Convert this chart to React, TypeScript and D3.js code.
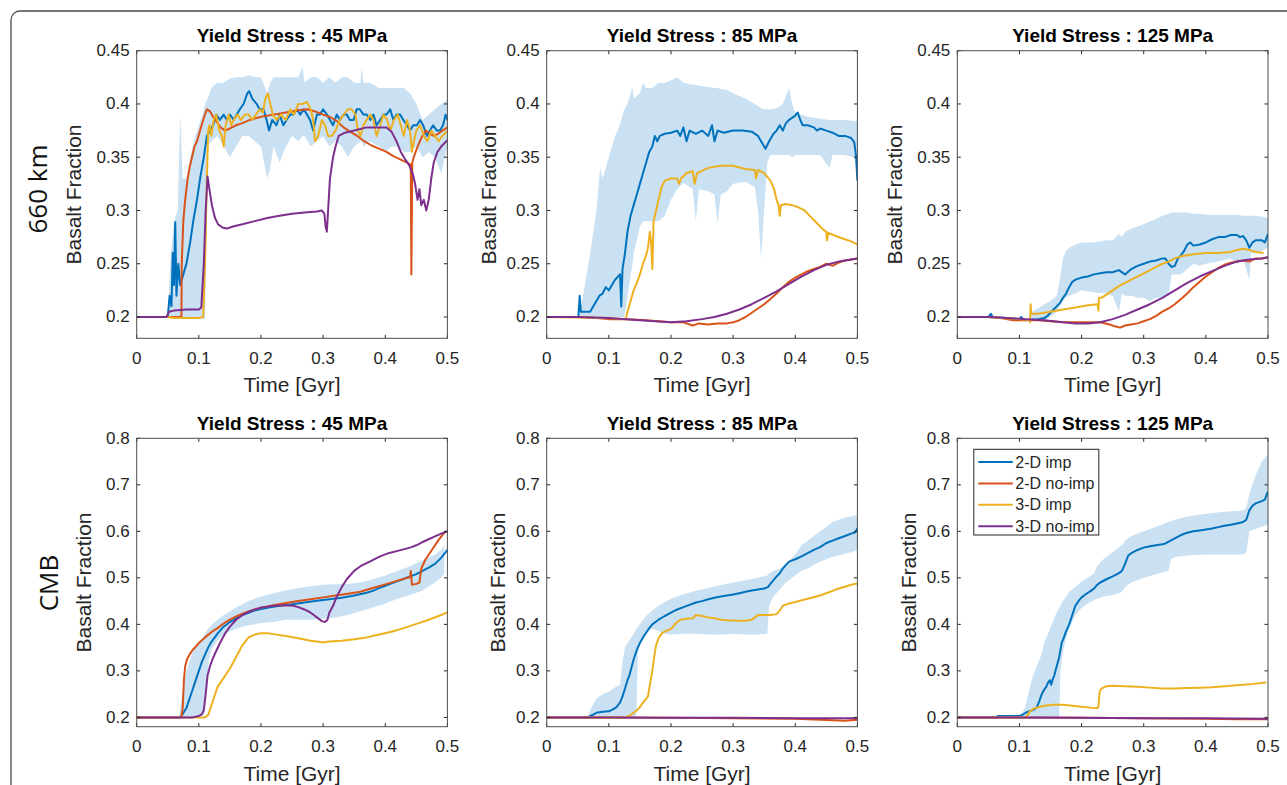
import React from "react";
import * as d3 from "d3";

type Pt = [number, number];
type BandPt = [number, number, number];

// ---- axes / labels ----
const timeTicks = [0, 0.1, 0.2, 0.3, 0.4, 0.5];
const ticks660 = [0.2, 0.25, 0.3, 0.35, 0.4, 0.45];
const ticksCMB = [0.2, 0.3, 0.4, 0.5, 0.6, 0.7, 0.8];
const seriesNames = ["2-D imp", "2-D no-imp", "3-D imp", "3-D no-imp"];
const seriesColors = ["#0072BD", "#D95319", "#EDB120", "#7E2F8E"];
const yieldStresses = [45, 85, 125];
const rowLabels = ["660 km", "CMB"];

// ---- 660 km, 45 MPa ----
const imp2d_660_45: Pt[] = [[0,0.2],[0.05,0.2],[0.053,0.22],[0.056,0.21],[0.058,0.26],[0.06,0.23],[0.062,0.289],[0.064,0.22],[0.067,0.25],[0.07,0.23],[0.075,0.24],[0.08,0.25],[0.086,0.27],[0.091,0.29],[0.097,0.31],[0.102,0.33],[0.108,0.35],[0.113,0.37],[0.118,0.375],[0.123,0.38],[0.128,0.39],[0.134,0.385],[0.14,0.39],[0.145,0.385],[0.15,0.39],[0.156,0.385],[0.161,0.39],[0.166,0.395],[0.172,0.4],[0.178,0.41],[0.181,0.412],[0.186,0.405],[0.193,0.4],[0.198,0.395],[0.204,0.395],[0.209,0.385],[0.213,0.375],[0.218,0.385],[0.225,0.38],[0.23,0.39],[0.236,0.38],[0.241,0.385],[0.247,0.39],[0.252,0.39],[0.258,0.395],[0.263,0.39],[0.269,0.395],[0.274,0.39],[0.279,0.385],[0.284,0.375],[0.29,0.39],[0.295,0.39],[0.3,0.395],[0.306,0.39],[0.311,0.385],[0.316,0.38],[0.322,0.39],[0.327,0.385],[0.333,0.39],[0.338,0.39],[0.343,0.385],[0.349,0.385],[0.354,0.395],[0.359,0.395],[0.365,0.39],[0.37,0.39],[0.376,0.385],[0.381,0.39],[0.386,0.38],[0.392,0.385],[0.397,0.39],[0.402,0.39],[0.408,0.395],[0.413,0.385],[0.418,0.39],[0.424,0.39],[0.429,0.385],[0.435,0.38],[0.44,0.375],[0.445,0.38],[0.451,0.38],[0.456,0.385],[0.461,0.38],[0.467,0.37],[0.472,0.375],[0.477,0.38],[0.483,0.375],[0.488,0.375],[0.493,0.38],[0.497,0.39],[0.5,0.385]];
const noimp2d_660_45: Pt[] = [[0,0.2],[0.072,0.2],[0.0725,0.25],[0.075,0.29],[0.078,0.31],[0.082,0.33],[0.085,0.34],[0.089,0.35],[0.093,0.36],[0.097,0.365],[0.102,0.375],[0.107,0.385],[0.111,0.392],[0.113,0.395],[0.118,0.393],[0.123,0.388],[0.129,0.383],[0.135,0.378],[0.142,0.375],[0.15,0.377],[0.16,0.38],[0.17,0.382],[0.182,0.385],[0.2,0.388],[0.22,0.39],[0.24,0.392],[0.26,0.394],[0.274,0.395],[0.287,0.393],[0.3,0.39],[0.31,0.388],[0.322,0.384],[0.333,0.378],[0.343,0.374],[0.355,0.37],[0.366,0.365],[0.378,0.361],[0.39,0.358],[0.402,0.355],[0.413,0.351],[0.424,0.348],[0.435,0.345],[0.441,0.343],[0.442,0.24],[0.4435,0.345],[0.447,0.352],[0.452,0.36],[0.458,0.368],[0.465,0.375],[0.472,0.372],[0.478,0.37],[0.485,0.372],[0.492,0.375],[0.5,0.378]];
const imp3d_660_45: Pt[] = [[0,0.2],[0.05,0.2],[0.06,0.199],[0.1,0.199],[0.107,0.2],[0.11,0.25],[0.113,0.33],[0.115,0.375],[0.117,0.38],[0.12,0.37],[0.124,0.385],[0.128,0.39],[0.133,0.375],[0.137,0.37],[0.14,0.36],[0.143,0.38],[0.148,0.39],[0.152,0.38],[0.156,0.385],[0.162,0.39],[0.168,0.385],[0.174,0.39],[0.18,0.39],[0.186,0.385],[0.192,0.39],[0.198,0.395],[0.203,0.392],[0.207,0.405],[0.211,0.41],[0.215,0.4],[0.219,0.39],[0.225,0.385],[0.232,0.39],[0.24,0.385],[0.247,0.395],[0.253,0.39],[0.26,0.4],[0.267,0.4],[0.274,0.402],[0.28,0.395],[0.284,0.385],[0.287,0.365],[0.292,0.37],[0.298,0.385],[0.303,0.38],[0.308,0.37],[0.314,0.37],[0.32,0.375],[0.327,0.385],[0.333,0.39],[0.34,0.395],[0.346,0.395],[0.352,0.39],[0.356,0.375],[0.36,0.37],[0.365,0.38],[0.37,0.385],[0.376,0.39],[0.381,0.385],[0.386,0.37],[0.392,0.38],[0.397,0.39],[0.403,0.385],[0.408,0.375],[0.414,0.385],[0.42,0.39],[0.425,0.38],[0.43,0.37],[0.435,0.385],[0.44,0.375],[0.443,0.355],[0.446,0.365],[0.45,0.375],[0.456,0.38],[0.462,0.37],[0.468,0.365],[0.474,0.375],[0.48,0.37],[0.486,0.365],[0.492,0.37],[0.5,0.375]];
const noimp3d_660_45: Pt[] = [[0,0.2],[0.048,0.2],[0.052,0.205],[0.06,0.206],[0.08,0.207],[0.1,0.207],[0.104,0.209],[0.108,0.25],[0.111,0.3],[0.114,0.332],[0.117,0.32],[0.121,0.305],[0.126,0.293],[0.131,0.287],[0.138,0.284],[0.145,0.283],[0.155,0.285],[0.17,0.287],[0.19,0.29],[0.21,0.293],[0.23,0.295],[0.25,0.297],[0.27,0.298],[0.29,0.299],[0.298,0.3],[0.302,0.297],[0.304,0.285],[0.306,0.28],[0.308,0.3],[0.311,0.33],[0.316,0.35],[0.32,0.36],[0.325,0.37],[0.335,0.373],[0.35,0.375],[0.37,0.378],[0.39,0.378],[0.402,0.378],[0.41,0.374],[0.418,0.365],[0.425,0.355],[0.432,0.348],[0.438,0.343],[0.444,0.335],[0.448,0.325],[0.452,0.31],[0.455,0.32],[0.458,0.305],[0.462,0.31],[0.466,0.3],[0.47,0.31],[0.474,0.33],[0.478,0.345],[0.484,0.355],[0.49,0.36],[0.5,0.366]];
const band_660_45: BandPt[] = [[0.05,0.2,0.2],[0.055,0.2,0.26],[0.06,0.2,0.29],[0.066,0.2,0.3],[0.07,0.2,0.39],[0.074,0.2,0.33],[0.08,0.2,0.33],[0.086,0.2,0.35],[0.092,0.198,0.365],[0.1,0.198,0.38],[0.106,0.198,0.39],[0.11,0.198,0.4],[0.114,0.36,0.405],[0.12,0.365,0.415],[0.13,0.37,0.42],[0.14,0.36,0.42],[0.15,0.35,0.424],[0.16,0.36,0.425],[0.17,0.37,0.425],[0.18,0.37,0.427],[0.19,0.365,0.425],[0.2,0.36,0.425],[0.21,0.33,0.41],[0.215,0.34,0.42],[0.22,0.36,0.425],[0.23,0.345,0.425],[0.24,0.36,0.425],[0.25,0.37,0.425],[0.26,0.365,0.425],[0.267,0.37,0.435],[0.27,0.37,0.42],[0.28,0.36,0.425],[0.29,0.365,0.425],[0.3,0.37,0.42],[0.31,0.36,0.425],[0.32,0.365,0.42],[0.33,0.36,0.425],[0.34,0.35,0.425],[0.35,0.36,0.42],[0.36,0.365,0.42],[0.362,0.365,0.435],[0.365,0.36,0.42],[0.375,0.365,0.42],[0.39,0.36,0.415],[0.4,0.355,0.415],[0.41,0.36,0.415],[0.42,0.36,0.415],[0.43,0.355,0.415],[0.44,0.355,0.41],[0.45,0.36,0.4],[0.46,0.35,0.385],[0.47,0.355,0.39],[0.48,0.35,0.395],[0.49,0.335,0.4],[0.5,0.36,0.404]];

// ---- 660 km, 85 MPa ----
const imp2d_660_85: Pt[] = [[0,0.2],[0.051,0.2],[0.053,0.22],[0.055,0.205],[0.07,0.205],[0.075,0.21],[0.08,0.215],[0.085,0.22],[0.09,0.222],[0.095,0.228],[0.1,0.225],[0.105,0.23],[0.11,0.235],[0.118,0.24],[0.12,0.21],[0.122,0.245],[0.126,0.26],[0.13,0.28],[0.135,0.295],[0.14,0.305],[0.145,0.315],[0.15,0.325],[0.155,0.335],[0.16,0.345],[0.165,0.355],[0.17,0.36],[0.174,0.37],[0.178,0.365],[0.182,0.37],[0.19,0.372],[0.2,0.373],[0.21,0.375],[0.215,0.37],[0.22,0.378],[0.225,0.365],[0.23,0.375],[0.24,0.372],[0.25,0.375],[0.26,0.37],[0.266,0.38],[0.27,0.365],[0.275,0.375],[0.285,0.373],[0.3,0.375],[0.315,0.375],[0.33,0.374],[0.34,0.37],[0.345,0.365],[0.352,0.358],[0.358,0.365],[0.365,0.372],[0.37,0.375],[0.375,0.38],[0.38,0.375],[0.385,0.382],[0.39,0.385],[0.395,0.387],[0.4,0.389],[0.404,0.392],[0.408,0.385],[0.412,0.38],[0.42,0.38],[0.43,0.378],[0.435,0.375],[0.44,0.377],[0.45,0.375],[0.46,0.373],[0.47,0.37],[0.48,0.37],[0.49,0.368],[0.495,0.364],[0.498,0.35],[0.5,0.328]];
const noimp2d_660_85: Pt[] = [[0,0.2],[0.05,0.2],[0.08,0.199],[0.1,0.198],[0.13,0.198],[0.16,0.197],[0.18,0.196],[0.2,0.195],[0.22,0.195],[0.235,0.192],[0.245,0.194],[0.26,0.193],[0.275,0.194],[0.29,0.194],[0.3,0.195],[0.31,0.197],[0.32,0.2],[0.33,0.204],[0.34,0.208],[0.35,0.212],[0.36,0.217],[0.37,0.222],[0.38,0.228],[0.39,0.233],[0.4,0.237],[0.41,0.24],[0.42,0.243],[0.43,0.245],[0.44,0.247],[0.45,0.25],[0.46,0.248],[0.47,0.251],[0.48,0.253],[0.49,0.254],[0.5,0.255]];
const imp3d_660_85: Pt[] = [[0,0.2],[0.1,0.199],[0.127,0.198],[0.13,0.205],[0.135,0.215],[0.14,0.225],[0.145,0.232],[0.15,0.24],[0.155,0.25],[0.16,0.258],[0.163,0.265],[0.166,0.28],[0.168,0.27],[0.17,0.245],[0.172,0.29],[0.176,0.3],[0.18,0.31],[0.185,0.322],[0.19,0.328],[0.2,0.33],[0.21,0.33],[0.213,0.325],[0.216,0.33],[0.225,0.335],[0.235,0.337],[0.238,0.325],[0.242,0.335],[0.26,0.34],[0.28,0.342],[0.3,0.342],[0.32,0.339],[0.335,0.338],[0.337,0.33],[0.34,0.338],[0.35,0.335],[0.36,0.328],[0.366,0.32],[0.37,0.31],[0.373,0.305],[0.375,0.295],[0.377,0.305],[0.385,0.306],[0.395,0.305],[0.405,0.303],[0.415,0.3],[0.425,0.294],[0.435,0.288],[0.445,0.282],[0.45,0.28],[0.451,0.272],[0.453,0.279],[0.465,0.276],[0.48,0.273],[0.49,0.271],[0.5,0.268]];
const noimp3d_660_85: Pt[] = [[0,0.2],[0.05,0.2],[0.1,0.199],[0.15,0.197],[0.2,0.195],[0.225,0.196],[0.25,0.198],[0.27,0.2],[0.29,0.203],[0.31,0.207],[0.33,0.212],[0.35,0.218],[0.37,0.224],[0.39,0.231],[0.41,0.238],[0.43,0.244],[0.45,0.249],[0.47,0.252],[0.49,0.254],[0.5,0.255]];
const band_660_85: BandPt[] = [[0.05,0.2,0.2],[0.055,0.2,0.21],[0.06,0.2,0.225],[0.07,0.2,0.26],[0.08,0.2,0.3],[0.086,0.2,0.34],[0.09,0.2,0.33],[0.1,0.2,0.35],[0.105,0.2,0.36],[0.11,0.2,0.37],[0.115,0.2,0.376],[0.12,0.2,0.385],[0.125,0.2,0.395],[0.13,0.22,0.4],[0.138,0.25,0.416],[0.14,0.26,0.405],[0.15,0.285,0.41],[0.155,0.29,0.42],[0.16,0.29,0.415],[0.17,0.29,0.415],[0.18,0.29,0.42],[0.19,0.295,0.42],[0.2,0.31,0.422],[0.21,0.32,0.425],[0.22,0.326,0.42],[0.235,0.32,0.418],[0.24,0.29,0.418],[0.245,0.32,0.417],[0.26,0.318,0.416],[0.27,0.315,0.415],[0.275,0.288,0.415],[0.28,0.315,0.414],[0.29,0.318,0.413],[0.3,0.325,0.41],[0.32,0.327,0.405],[0.335,0.322,0.4],[0.34,0.3,0.398],[0.345,0.255,0.396],[0.35,0.3,0.395],[0.355,0.345,0.395],[0.36,0.352,0.395],[0.37,0.352,0.396],[0.38,0.352,0.4],[0.39,0.352,0.415],[0.395,0.35,0.4],[0.4,0.352,0.392],[0.42,0.352,0.388],[0.44,0.352,0.386],[0.455,0.34,0.385],[0.46,0.352,0.385],[0.48,0.352,0.385],[0.495,0.35,0.384],[0.5,0.33,0.384]];

// ---- 660 km, 125 MPa ----
const imp2d_660_125: Pt[] = [[0,0.2],[0.05,0.2],[0.054,0.203],[0.057,0.2],[0.08,0.199],[0.1,0.198],[0.103,0.2],[0.107,0.197],[0.13,0.198],[0.14,0.199],[0.145,0.201],[0.15,0.204],[0.155,0.207],[0.16,0.21],[0.165,0.213],[0.17,0.218],[0.175,0.222],[0.18,0.228],[0.185,0.233],[0.19,0.235],[0.195,0.236],[0.2,0.237],[0.21,0.238],[0.22,0.24],[0.23,0.241],[0.24,0.242],[0.25,0.242],[0.26,0.244],[0.27,0.24],[0.28,0.245],[0.29,0.248],[0.3,0.25],[0.31,0.252],[0.32,0.253],[0.33,0.255],[0.335,0.255],[0.34,0.25],[0.345,0.247],[0.35,0.248],[0.355,0.255],[0.36,0.258],[0.365,0.262],[0.37,0.268],[0.375,0.27],[0.38,0.267],[0.39,0.268],[0.4,0.27],[0.41,0.273],[0.42,0.275],[0.43,0.275],[0.44,0.277],[0.45,0.277],[0.455,0.275],[0.46,0.276],[0.465,0.272],[0.47,0.265],[0.475,0.27],[0.48,0.272],[0.49,0.272],[0.495,0.27],[0.5,0.278]];
const noimp2d_660_125: Pt[] = [[0,0.2],[0.05,0.2],[0.07,0.199],[0.09,0.197],[0.13,0.197],[0.15,0.196],[0.17,0.195],[0.23,0.195],[0.245,0.193],[0.255,0.191],[0.262,0.19],[0.27,0.192],[0.28,0.193],[0.29,0.194],[0.3,0.196],[0.31,0.198],[0.32,0.201],[0.33,0.205],[0.34,0.208],[0.35,0.212],[0.36,0.217],[0.37,0.222],[0.38,0.228],[0.39,0.233],[0.4,0.238],[0.41,0.242],[0.42,0.246],[0.43,0.249],[0.44,0.251],[0.45,0.252],[0.46,0.253],[0.47,0.252],[0.48,0.255],[0.49,0.255],[0.5,0.256]];
const imp3d_660_125: Pt[] = [[0,0.2],[0.05,0.2],[0.1,0.198],[0.116,0.197],[0.117,0.195],[0.118,0.212],[0.119,0.203],[0.13,0.203],[0.15,0.205],[0.17,0.207],[0.19,0.209],[0.21,0.211],[0.226,0.212],[0.227,0.206],[0.228,0.218],[0.232,0.218],[0.24,0.221],[0.25,0.225],[0.26,0.229],[0.27,0.232],[0.28,0.235],[0.29,0.238],[0.3,0.241],[0.31,0.244],[0.32,0.247],[0.33,0.25],[0.34,0.252],[0.35,0.255],[0.36,0.257],[0.38,0.259],[0.4,0.26],[0.42,0.26],[0.44,0.261],[0.45,0.263],[0.46,0.264],[0.47,0.263],[0.48,0.261],[0.493,0.26]];
const noimp3d_660_125: Pt[] = [[0,0.2],[0.05,0.2],[0.08,0.199],[0.11,0.198],[0.14,0.197],[0.17,0.195],[0.19,0.194],[0.21,0.194],[0.23,0.195],[0.25,0.198],[0.27,0.202],[0.29,0.207],[0.31,0.212],[0.33,0.218],[0.35,0.225],[0.37,0.232],[0.39,0.238],[0.41,0.243],[0.43,0.248],[0.45,0.252],[0.47,0.254],[0.49,0.255],[0.5,0.256]];
const band_660_125: BandPt[] = [[0.115,0.197,0.2],[0.12,0.197,0.205],[0.13,0.197,0.208],[0.14,0.197,0.212],[0.15,0.2,0.215],[0.16,0.205,0.22],[0.165,0.21,0.235],[0.17,0.215,0.255],[0.175,0.218,0.262],[0.18,0.22,0.265],[0.19,0.222,0.268],[0.2,0.225,0.27],[0.22,0.223,0.27],[0.24,0.222,0.272],[0.25,0.22,0.272],[0.26,0.205,0.278],[0.265,0.222,0.275],[0.27,0.22,0.28],[0.28,0.22,0.283],[0.29,0.218,0.285],[0.3,0.218,0.287],[0.31,0.215,0.29],[0.32,0.218,0.292],[0.33,0.218,0.295],[0.34,0.22,0.297],[0.345,0.24,0.298],[0.36,0.24,0.298],[0.37,0.245,0.298],[0.38,0.25,0.297],[0.39,0.248,0.297],[0.4,0.25,0.296],[0.42,0.252,0.296],[0.44,0.255,0.296],[0.45,0.25,0.296],[0.46,0.255,0.295],[0.47,0.235,0.295],[0.473,0.26,0.295],[0.48,0.26,0.295],[0.49,0.262,0.294],[0.5,0.265,0.293]];

// ---- CMB, 45 MPa ----
const imp2d_cmb_45: Pt[] = [[0,0.2],[0.07,0.2],[0.073,0.205],[0.08,0.22],[0.085,0.24],[0.09,0.26],[0.095,0.28],[0.1,0.3],[0.105,0.32],[0.11,0.335],[0.115,0.35],[0.12,0.362],[0.13,0.38],[0.14,0.395],[0.15,0.405],[0.16,0.413],[0.17,0.42],[0.18,0.425],[0.19,0.43],[0.2,0.433],[0.215,0.437],[0.23,0.44],[0.25,0.443],[0.27,0.447],[0.29,0.451],[0.31,0.454],[0.33,0.457],[0.35,0.462],[0.37,0.468],[0.38,0.472],[0.39,0.478],[0.4,0.483],[0.41,0.488],[0.42,0.493],[0.43,0.498],[0.44,0.503],[0.45,0.508],[0.46,0.515],[0.47,0.522],[0.48,0.53],[0.49,0.543],[0.5,0.56]];
const noimp2d_cmb_45: Pt[] = [[0,0.2],[0.072,0.2],[0.074,0.22],[0.076,0.28],[0.078,0.31],[0.081,0.325],[0.085,0.335],[0.09,0.345],[0.095,0.352],[0.1,0.36],[0.11,0.372],[0.12,0.383],[0.13,0.392],[0.14,0.402],[0.15,0.41],[0.16,0.417],[0.17,0.423],[0.18,0.428],[0.19,0.432],[0.2,0.436],[0.22,0.441],[0.24,0.446],[0.26,0.45],[0.28,0.454],[0.3,0.458],[0.32,0.462],[0.34,0.466],[0.36,0.47],[0.38,0.478],[0.4,0.486],[0.42,0.494],[0.44,0.502],[0.441,0.515],[0.443,0.485],[0.45,0.487],[0.455,0.49],[0.458,0.52],[0.465,0.54],[0.475,0.56],[0.485,0.58],[0.495,0.597],[0.5,0.6]];
const imp3d_cmb_45: Pt[] = [[0,0.2],[0.11,0.2],[0.115,0.205],[0.12,0.225],[0.125,0.245],[0.13,0.265],[0.14,0.285],[0.15,0.305],[0.16,0.33],[0.17,0.355],[0.18,0.372],[0.19,0.378],[0.2,0.381],[0.21,0.381],[0.22,0.379],[0.24,0.375],[0.26,0.37],[0.28,0.365],[0.295,0.362],[0.3,0.361],[0.31,0.363],[0.33,0.365],[0.35,0.368],[0.37,0.372],[0.39,0.378],[0.41,0.384],[0.43,0.392],[0.45,0.401],[0.47,0.41],[0.49,0.42],[0.5,0.426]];
const noimp3d_cmb_45: Pt[] = [[0,0.2],[0.09,0.2],[0.1,0.203],[0.105,0.207],[0.108,0.215],[0.111,0.25],[0.114,0.29],[0.118,0.31],[0.122,0.325],[0.127,0.34],[0.134,0.36],[0.142,0.38],[0.15,0.395],[0.16,0.41],[0.17,0.42],[0.18,0.427],[0.19,0.432],[0.2,0.436],[0.21,0.438],[0.22,0.44],[0.24,0.441],[0.252,0.44],[0.26,0.437],[0.27,0.432],[0.28,0.425],[0.29,0.415],[0.298,0.407],[0.303,0.405],[0.307,0.41],[0.31,0.425],[0.316,0.44],[0.322,0.46],[0.33,0.48],[0.338,0.497],[0.35,0.515],[0.36,0.525],[0.375,0.535],[0.39,0.545],[0.405,0.553],[0.42,0.558],[0.44,0.565],[0.45,0.57],[0.46,0.577],[0.47,0.583],[0.48,0.589],[0.49,0.595],[0.5,0.6]];
const band_cmb_45: BandPt[] = [[0.068,0.2,0.2],[0.072,0.2,0.24],[0.076,0.2,0.27],[0.08,0.2,0.3],[0.085,0.2,0.32],[0.09,0.2,0.34],[0.1,0.2,0.36],[0.108,0.205,0.375],[0.112,0.26,0.385],[0.116,0.32,0.392],[0.12,0.345,0.398],[0.13,0.365,0.41],[0.14,0.378,0.42],[0.15,0.385,0.428],[0.16,0.39,0.436],[0.17,0.395,0.443],[0.18,0.398,0.45],[0.19,0.4,0.455],[0.2,0.403,0.46],[0.22,0.405,0.467],[0.24,0.41,0.473],[0.26,0.41,0.478],[0.28,0.41,0.482],[0.3,0.412,0.485],[0.32,0.415,0.486],[0.34,0.42,0.487],[0.36,0.428,0.49],[0.38,0.436,0.497],[0.4,0.445,0.505],[0.42,0.455,0.515],[0.44,0.463,0.525],[0.46,0.473,0.538],[0.48,0.49,0.55],[0.49,0.5,0.56],[0.495,0.51,0.57]];

// ---- CMB, 85 MPa ----
const imp2d_cmb_85: Pt[] = [[0,0.2],[0.067,0.2],[0.07,0.203],[0.075,0.206],[0.08,0.21],[0.09,0.212],[0.1,0.213],[0.105,0.216],[0.11,0.22],[0.113,0.223],[0.118,0.232],[0.122,0.245],[0.126,0.262],[0.13,0.28],[0.133,0.29],[0.135,0.3],[0.14,0.325],[0.145,0.345],[0.15,0.36],[0.155,0.372],[0.16,0.382],[0.165,0.392],[0.17,0.4],[0.18,0.41],[0.19,0.418],[0.2,0.425],[0.21,0.432],[0.22,0.437],[0.23,0.442],[0.24,0.447],[0.25,0.45],[0.26,0.454],[0.27,0.457],[0.28,0.46],[0.29,0.462],[0.3,0.464],[0.31,0.467],[0.32,0.47],[0.33,0.473],[0.34,0.475],[0.35,0.477],[0.356,0.48],[0.36,0.487],[0.365,0.495],[0.37,0.503],[0.375,0.51],[0.38,0.52],[0.385,0.528],[0.39,0.535],[0.4,0.54],[0.41,0.546],[0.42,0.553],[0.43,0.56],[0.44,0.566],[0.45,0.575],[0.46,0.58],[0.47,0.585],[0.48,0.59],[0.49,0.595],[0.497,0.598],[0.5,0.607]];
const noimp2d_cmb_85: Pt[] = [[0,0.2],[0.1,0.2],[0.2,0.199],[0.3,0.198],[0.4,0.197],[0.44,0.195],[0.46,0.194],[0.48,0.193],[0.5,0.195]];
const imp3d_cmb_85: Pt[] = [[0,0.2],[0.125,0.2],[0.13,0.202],[0.135,0.205],[0.14,0.21],[0.145,0.215],[0.15,0.222],[0.155,0.232],[0.16,0.24],[0.163,0.245],[0.166,0.27],[0.17,0.3],[0.173,0.33],[0.176,0.355],[0.18,0.37],[0.185,0.38],[0.19,0.385],[0.2,0.39],[0.205,0.398],[0.21,0.405],[0.215,0.41],[0.225,0.412],[0.235,0.413],[0.24,0.42],[0.25,0.418],[0.26,0.415],[0.27,0.413],[0.28,0.41],[0.29,0.409],[0.31,0.408],[0.32,0.408],[0.33,0.41],[0.335,0.415],[0.34,0.42],[0.36,0.42],[0.37,0.422],[0.375,0.43],[0.38,0.44],[0.39,0.445],[0.4,0.448],[0.42,0.455],[0.44,0.462],[0.45,0.467],[0.46,0.472],[0.47,0.477],[0.48,0.481],[0.49,0.485],[0.5,0.488]];
const noimp3d_cmb_85: Pt[] = [[0,0.2],[0.1,0.2],[0.2,0.199],[0.3,0.199],[0.4,0.198],[0.5,0.198]];
const band_cmb_85: BandPt[] = [[0.065,0.2,0.2],[0.07,0.2,0.215],[0.075,0.2,0.23],[0.08,0.2,0.24],[0.09,0.2,0.25],[0.1,0.2,0.255],[0.11,0.2,0.265],[0.118,0.2,0.27],[0.122,0.2,0.32],[0.126,0.2,0.35],[0.13,0.2,0.36],[0.135,0.2,0.37],[0.14,0.2,0.38],[0.144,0.2,0.39],[0.147,0.34,0.395],[0.15,0.36,0.4],[0.155,0.375,0.41],[0.16,0.385,0.418],[0.17,0.39,0.43],[0.18,0.385,0.44],[0.19,0.38,0.448],[0.2,0.378,0.455],[0.22,0.38,0.465],[0.24,0.38,0.472],[0.26,0.378,0.478],[0.28,0.378,0.484],[0.3,0.38,0.49],[0.32,0.378,0.495],[0.34,0.378,0.5],[0.355,0.38,0.505],[0.358,0.44,0.51],[0.365,0.46,0.515],[0.375,0.475,0.52],[0.385,0.49,0.53],[0.4,0.505,0.55],[0.41,0.515,0.57],[0.42,0.52,0.58],[0.43,0.528,0.59],[0.44,0.535,0.6],[0.45,0.54,0.61],[0.46,0.545,0.62],[0.47,0.548,0.625],[0.48,0.552,0.63],[0.49,0.555,0.632],[0.5,0.56,0.635]];

// ---- CMB, 125 MPa ----
const imp2d_cmb_125: Pt[] = [[0,0.2],[0.063,0.2],[0.065,0.203],[0.1,0.203],[0.104,0.205],[0.11,0.21],[0.115,0.213],[0.12,0.215],[0.125,0.218],[0.128,0.222],[0.132,0.235],[0.136,0.25],[0.14,0.26],[0.143,0.265],[0.146,0.275],[0.149,0.28],[0.151,0.27],[0.153,0.28],[0.156,0.29],[0.16,0.31],[0.164,0.33],[0.168,0.36],[0.171,0.37],[0.175,0.385],[0.18,0.4],[0.185,0.42],[0.19,0.44],[0.195,0.45],[0.2,0.458],[0.205,0.463],[0.21,0.468],[0.215,0.472],[0.22,0.477],[0.225,0.485],[0.23,0.49],[0.24,0.497],[0.25,0.503],[0.26,0.51],[0.265,0.515],[0.27,0.53],[0.275,0.548],[0.28,0.553],[0.29,0.56],[0.3,0.565],[0.31,0.568],[0.32,0.57],[0.33,0.572],[0.335,0.574],[0.34,0.578],[0.35,0.585],[0.36,0.592],[0.37,0.597],[0.38,0.6],[0.39,0.602],[0.4,0.604],[0.41,0.606],[0.42,0.609],[0.43,0.612],[0.44,0.614],[0.45,0.617],[0.46,0.62],[0.465,0.625],[0.47,0.645],[0.475,0.655],[0.48,0.66],[0.49,0.665],[0.495,0.668],[0.498,0.68],[0.5,0.685]];
const noimp2d_cmb_125: Pt[] = [[0,0.2],[0.1,0.2],[0.2,0.199],[0.3,0.198],[0.4,0.197],[0.45,0.196],[0.5,0.196]];
const imp3d_cmb_125: Pt[] = [[0,0.2],[0.11,0.2],[0.113,0.205],[0.117,0.213],[0.122,0.218],[0.13,0.222],[0.14,0.225],[0.155,0.227],[0.17,0.227],[0.185,0.225],[0.2,0.223],[0.215,0.221],[0.225,0.22],[0.227,0.222],[0.229,0.255],[0.232,0.262],[0.24,0.267],[0.25,0.268],[0.27,0.267],[0.29,0.266],[0.31,0.264],[0.33,0.262],[0.35,0.262],[0.37,0.263],[0.39,0.264],[0.41,0.265],[0.43,0.267],[0.45,0.269],[0.47,0.271],[0.497,0.275]];
const noimp3d_cmb_125: Pt[] = [[0,0.2],[0.2,0.199],[0.3,0.198],[0.4,0.198],[0.5,0.197]];
const band_cmb_125: BandPt[] = [[0.062,0.2,0.203],[0.08,0.2,0.205],[0.1,0.2,0.207],[0.105,0.2,0.21],[0.11,0.2,0.225],[0.114,0.2,0.25],[0.118,0.2,0.27],[0.122,0.2,0.29],[0.128,0.2,0.31],[0.134,0.2,0.33],[0.14,0.2,0.36],[0.146,0.2,0.38],[0.152,0.2,0.4],[0.158,0.2,0.42],[0.164,0.2,0.435],[0.166,0.3,0.44],[0.17,0.34,0.45],[0.175,0.37,0.46],[0.18,0.39,0.47],[0.19,0.42,0.48],[0.2,0.435,0.492],[0.21,0.445,0.5],[0.22,0.452,0.51],[0.225,0.455,0.525],[0.235,0.46,0.54],[0.245,0.462,0.55],[0.255,0.465,0.56],[0.265,0.47,0.57],[0.27,0.48,0.58],[0.28,0.49,0.59],[0.3,0.5,0.6],[0.32,0.508,0.61],[0.34,0.515,0.62],[0.344,0.54,0.622],[0.35,0.545,0.625],[0.37,0.548,0.632],[0.4,0.55,0.638],[0.43,0.55,0.642],[0.46,0.55,0.645],[0.465,0.555,0.65],[0.47,0.6,0.68],[0.48,0.605,0.72],[0.49,0.61,0.75],[0.5,0.615,0.765]];

const panels = [
  { row: 0, col: 0, band: band_660_45, lines: [imp2d_660_45, noimp2d_660_45, imp3d_660_45, noimp3d_660_45] },
  { row: 0, col: 1, band: band_660_85, lines: [imp2d_660_85, noimp2d_660_85, imp3d_660_85, noimp3d_660_85] },
  { row: 0, col: 2, band: band_660_125, lines: [imp2d_660_125, noimp2d_660_125, imp3d_660_125, noimp3d_660_125] },
  { row: 1, col: 0, band: band_cmb_45, lines: [imp2d_cmb_45, noimp2d_cmb_45, imp3d_cmb_45, noimp3d_cmb_45] },
  { row: 1, col: 1, band: band_cmb_85, lines: [imp2d_cmb_85, noimp2d_cmb_85, imp3d_cmb_85, noimp3d_cmb_85] },
  { row: 1, col: 2, band: band_cmb_125, lines: [imp2d_cmb_125, noimp2d_cmb_125, imp3d_cmb_125, noimp3d_cmb_125] },
];

// ---- layout ----
const W = 1287;
const H = 785;
const colLeft = [136.7, 546.7, 957.3];
const plotW = 310.7;
const rowTop = [50.7, 438.3];
const rowBottom = [338.3, 726.7];
const yDomains: [number, number][] = [[0.18, 0.45], [0.18, 0.8]];
const yTickSets = [ticks660, ticksCMB];
const yLabelOffset = [[63, 58.5, 62.5], [53, 49, 49]];
const rowLabelPos = [[37, 189], [48, 583]];

const FONT = "'Liberation Sans', Arial, Helvetica, sans-serif";
const INK = "#262626";
const BAND = "#C9E1F2";

function Panel({ p }: { p: (typeof panels)[number] }) {
  const left = colLeft[p.col];
  const right = left + plotW;
  const top = rowTop[p.row];
  const bottom = rowBottom[p.row];
  const x = d3.scaleLinear().domain([0, 0.5]).range([left, right]);
  const y = d3.scaleLinear().domain(yDomains[p.row]).range([bottom, top]);
  const line = d3.line<Pt>().x((d) => x(d[0])).y((d) => y(d[1]));
  const area = d3.area<BandPt>().x((d) => x(d[0])).y0((d) => y(d[1])).y1((d) => y(d[2]));
  const clipId = `clip-${p.row}-${p.col}`;
  const tk = 3.5;
  const fmt = (v: number) => String(+v.toFixed(2));
  return (
    <g>
      <defs>
        <clipPath id={clipId}>
          <rect x={left} y={top} width={plotW} height={bottom - top} />
        </clipPath>
      </defs>
      <rect x={left} y={top} width={plotW} height={bottom - top} fill="#fff" />
      <g clipPath={`url(#${clipId})`}>
        <path d={area(p.band) || ""} fill={BAND} stroke="none" />
        {p.lines.map((ln, i) => (
          <path key={i} d={line(ln) || ""} fill="none" stroke={seriesColors[i]} strokeWidth={2} strokeLinejoin="round" />
        ))}
      </g>
      {/* ticks on all four sides, pointing inward */}
      {timeTicks.map((t) => (
        <g key={"xt" + t} stroke={INK} strokeWidth={1}>
          <line x1={x(t)} x2={x(t)} y1={bottom} y2={bottom - tk} />
          <line x1={x(t)} x2={x(t)} y1={top} y2={top + tk} />
        </g>
      ))}
      {yTickSets[p.row].map((t) => (
        <g key={"yt" + t} stroke={INK} strokeWidth={1}>
          <line x1={left} x2={left + tk} y1={y(t)} y2={y(t)} />
          <line x1={right} x2={right - tk} y1={y(t)} y2={y(t)} />
        </g>
      ))}
      <rect x={left} y={top} width={plotW} height={bottom - top} fill="none" stroke="#4d4d4d" strokeWidth={1} />
      {timeTicks.map((t) => (
        <text key={"xl" + t} x={x(t)} y={bottom + 20} textAnchor="middle" dominantBaseline="central" fontSize={17} fontFamily={FONT} fill={INK}>
          {fmt(t)}
        </text>
      ))}
      {yTickSets[p.row].map((t) => (
        <text key={"yl" + t} x={left - 7} y={y(t)} textAnchor="end" dominantBaseline="central" fontSize={17} fontFamily={FONT} fill={INK}>
          {fmt(t)}
        </text>
      ))}
      <text x={(left + right) / 2} y={top - 15} textAnchor="middle" dominantBaseline="central" fontSize={19} fontWeight="bold" fontFamily={FONT} fill="#000">
        {`Yield Stress : ${yieldStresses[p.col]} MPa`}
      </text>
      <text x={(left + right) / 2} y={bottom + 54} textAnchor="middle" fontSize={21} fontFamily={FONT} fill={INK}>
        Time [Gyr]
      </text>
      <text
        transform={`translate(${left - yLabelOffset[p.row][p.col]},${(top + bottom) / 2}) rotate(-90)`}
        textAnchor="middle"
        dominantBaseline="central"
        fontSize={21}
        fontFamily={FONT}
        fill={INK}
      >
        Basalt Fraction
      </text>
    </g>
  );
}

function Legend() {
  const p = panels[5];
  const left = colLeft[p.col];
  const bx = left + 16.5;
  const by = rowTop[p.row] + 11;
  const bw = 125;
  const bh = 85.7;
  const rowH = 21.4;
  return (
    <g>
      <rect x={bx} y={by} width={bw} height={bh} fill="#fff" stroke={INK} strokeWidth={1} />
      {seriesNames.map((name, i) => {
        const cy = by + 12.7 + i * rowH;
        return (
          <g key={name}>
            <line x1={bx + 4.5} x2={bx + 39} y1={cy} y2={cy} stroke={seriesColors[i]} strokeWidth={2} />
            <text x={bx + 41.5} y={cy} dominantBaseline="central" fontSize={16} fontFamily={FONT} fill={INK}>
              {name}
            </text>
          </g>
        );
      })}
    </g>
  );
}

export default function App() {
  return (
    <svg
      width={W}
      height={H}
      viewBox={`0 0 ${W} ${H}`}
      style={{ position: "absolute", left: 0, top: 0, display: "block", background: "#fff" }}
    >
      <rect x={0} y={0} width={W} height={H} fill="#fff" />
      <rect x={11} y={11} width={1400} height={900} rx={9} fill="none" stroke="#4a4a4a" strokeWidth={1.3} />
      {panels.map((p) => (
        <Panel key={`${p.row}-${p.col}`} p={p} />
      ))}
      <Legend />
      {rowLabels.map((lab, i) => (
        <text
          key={lab}
          transform={`translate(${rowLabelPos[i][0]},${rowLabelPos[i][1]}) rotate(-90)`}
          textAnchor="middle"
          dominantBaseline="central"
          fontSize={26}
          fontFamily="'Open Sans', 'Noto Sans', sans-serif"
          fill="#111"
        >
          {lab}
        </text>
      ))}
    </svg>
  );
}
